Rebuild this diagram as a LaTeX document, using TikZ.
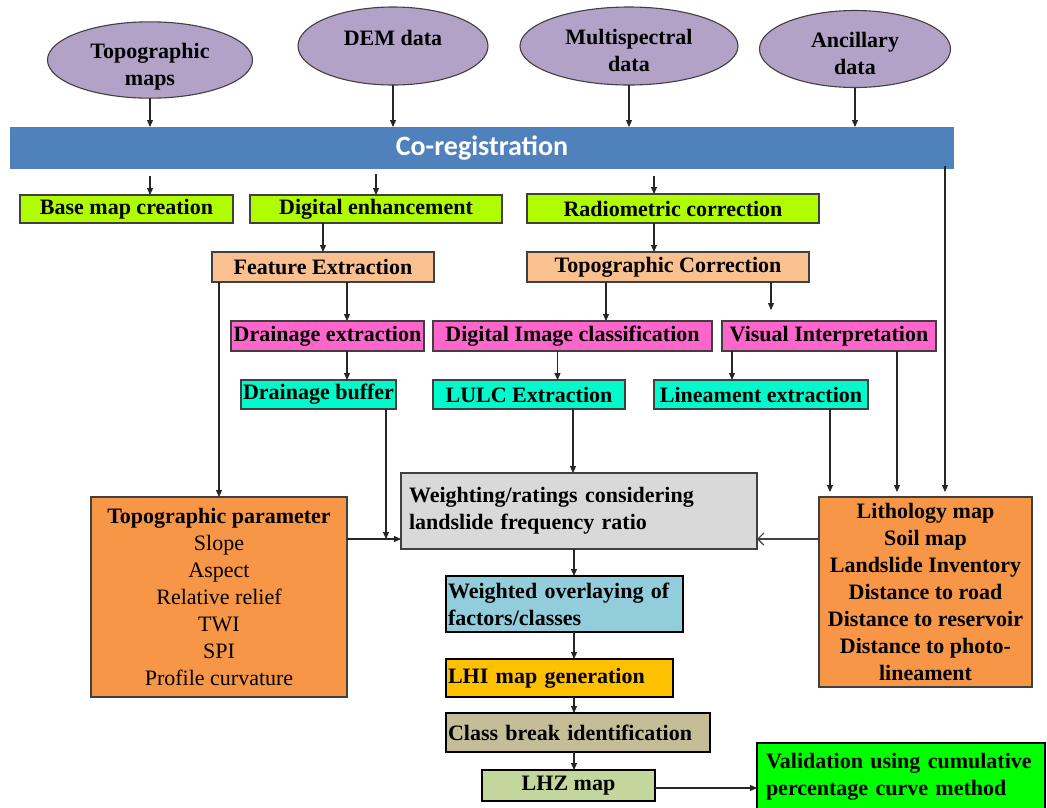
\documentclass[tikz,border=0pt]{standalone}
\usepackage{fontspec}
\setmainfont{Liberation Serif}
\newfontfamily\calib{Carlito}
\usetikzlibrary{arrows.meta,shapes.geometric}
\definecolor{ellfill}{HTML}{B2A2C7}
\definecolor{coregc}{HTML}{4F81BD}
\definecolor{greenc}{HTML}{B0FC00}
\definecolor{peach}{HTML}{FAC090}
\definecolor{pinkc}{HTML}{FF66CC}
\definecolor{cyanc}{HTML}{00FACC}
\definecolor{grayc}{HTML}{D9D9D9}
\definecolor{orangec}{HTML}{F79646}
\definecolor{lblue}{HTML}{92CDDC}
\definecolor{amber}{HTML}{FFC000}
\definecolor{tan}{HTML}{C4BD97}
\definecolor{lhzc}{HTML}{C3D69B}
\definecolor{valc}{HTML}{00FF00}
\definecolor{edge}{HTML}{404040}
\newcommand{\elltext}[2]{\raisebox{#1}[\height][\depth]{\begin{tabular}{@{}c@{}}#2\end{tabular}}}
\begin{document}
\begin{tikzpicture}[x=1pt,y=-1pt,
  every node/.style={font=\bfseries\fontsize{22}{27}\selectfont, inner sep=0pt, outer sep=0pt},
  ell/.style={ellipse, draw=edge, line width=1.1pt, fill=ellfill, align=center},
  box/.style={rectangle, draw=edge, line width=1.1pt, align=center},
  tbox/.style={rectangle, draw=black, line width=2pt, align=left},
  arr/.style={draw=black!85, line width=1.1pt, -{Triangle[length=7pt,width=6pt]}},
  openarr/.style={draw=black!75, line width=1.1pt, -{Straight Barb[length=6pt,width=12pt]}}]
\useasboundingbox (0,0) rectangle (1047,807);

% source ellipses
\node[ell, minimum width=205, minimum height=76] (tm) at (150,60) {\elltext{-7pt}{Topographic\\maps}};
\node[ell, minimum width=190, minimum height=78] (dem) at (393,46) {\elltext{6pt}{DEM data}};
\node[ell, minimum width=218, minimum height=78] (ms) at (629,46) {\elltext{-7pt}{Multispectral\\data}};
\node[ell, minimum width=191, minimum height=77] (anc) at (855,49) {\elltext{-7pt}{Ancillary\\data}};

% co-registration bar
\node[rectangle, fill=coregc, minimum width=944, minimum height=42, text=white,
      font=\calib\bfseries\fontsize{28}{32}\selectfont] (coreg) at (482,148) {Co-registration};

% first row
\node[box, fill=greenc, minimum width=213, minimum height=28] (base) at (126.5,209) {Base map creation};
\node[box, fill=greenc, minimum width=252, minimum height=28] (dig) at (376,209) {Digital enhancement};
\node[box, fill=greenc, minimum width=292, minimum height=29] (rad) at (673,208.5) {Radiometric correction};

% second row
\node[box, fill=peach, minimum width=222, minimum height=30] (feat) at (323,267) {Feature Extraction};
\node[box, fill=peach, minimum width=282, minimum height=30] (topcor) at (668,267) {Topographic Correction};

% third row
\node[box, fill=pinkc, minimum width=193, minimum height=30] (drex) at (327.5,336) {Drainage extraction};
\node[box, fill=pinkc, minimum width=279, minimum height=30] (dic) at (572.5,336) {Digital Image classification};
\node[box, fill=pinkc, minimum width=214, minimum height=30] (vi) at (829,336) {Visual Interpretation};

% fourth row
\node[box, fill=cyanc, minimum width=155, minimum height=29] (drbuf) at (318.5,394.5) {Drainage buffer};
\node[box, fill=cyanc, minimum width=192, minimum height=29] (lulc) at (529,394.5) {LULC Extraction};
\node[box, fill=cyanc, minimum width=214, minimum height=29] (lin) at (761,394.5) {Lineament extraction};

% weighting
\node[box, fill=grayc, minimum width=356, minimum height=76, text width=340, align=left, inner xsep=8pt] (weight) at (579,511)
  {Weighting/ratings considering\\landslide frequency ratio};

% factor boxes
\node[box, fill=orangec, minimum width=256, minimum height=200] (topo) at (219,597)
  {Topographic parameter\\\mdseries Slope\\\mdseries Aspect\\\mdseries Relative relief\\\mdseries TWI\\\mdseries SPI\\\mdseries Profile curvature};
\node[box, fill=orangec, minimum width=213, minimum height=190] (lith) at (925.5,592)
  {Lithology map\\Soil map\\Landslide Inventory\\Distance to road\\Distance to reservoir\\Distance to photo-\\lineament};

% output chain
\node[tbox, fill=lblue, minimum width=237, minimum height=56, text width=233, inner xsep=2pt] (wov) at (564.5,604)
  {Weighted overlaying of\\factors/classes};
\node[tbox, fill=amber, minimum width=227, minimum height=38, text width=223, inner xsep=2pt] (lhi) at (559.5,678) {LHI map generation};
\node[tbox, fill=tan, minimum width=264, minimum height=39, text width=260, inner xsep=2pt] (cb) at (578,732.5) {Class break identification};
\node[tbox, fill=lhzc, minimum width=173, minimum height=31, align=center] (lhz) at (568.5,785.5) {LHZ map};
\node[tbox, fill=valc, minimum width=288, minimum height=67, text width=270, inner xsep=9pt] (val) at (901,776.5)
  {Validation using cumulative\\percentage curve method};

% connectors: sources to co-registration
\draw[arr] (tm.south) -- (tm.south |- coreg.north);
\draw[arr] (dem.south) -- (dem.south |- coreg.north);
\draw[arr] (ms.south) -- (ms.south |- coreg.north);
\draw[arr] (anc.south) -- (anc.south |- coreg.north);

% co-registration to first row
\coordinate (r1) at ([xshift=-19pt]rad.north);
\draw[arr] ([yshift=-7pt]coreg.south -| tm.south) -- (tm.south |- base.north);
\draw[arr] ([yshift=-5pt]coreg.south -| dig.north) -- (dig.north);
\draw[arr] ([yshift=-7pt]coreg.south -| r1) -- (r1);

% to second row
\draw[arr] (feat.north |- dig.south) -- (feat.north);
\coordinate (r2) at ([xshift=-19pt]rad.south);
\draw[arr] (r2) -- (r2 |- topcor.north);

% feature extraction branches
\draw[arr] (topo.north |- feat.south) -- (topo.north);
\coordinate (f1) at ([xshift=24pt]feat.south);
\draw[arr] (f1) -- (f1 |- drex.north);
\draw[arr] (f1 |- drex.south) -- (f1 |- drbuf.north);

% topographic correction branches
\coordinate (t1) at ([xshift=-62pt]topcor.south);
\draw[arr] (t1) -- (t1 |- dic.north);
\coordinate (t2) at ([xshift=103pt]topcor.south);
\coordinate (vfree) at ([xshift=103pt,yshift=-28pt]topcor.south);
\draw[arr] (t2) -- (vfree);
\coordinate (d1) at ([xshift=-15pt]dic.south);
\draw[arr] (d1) -- (d1 |- lulc.north);
\coordinate (v1) at ([xshift=-97pt]vi.south);
\draw[arr] (v1) -- (v1 |- lin.north);

% into weighting
\coordinate (inW) at ([yshift=10pt]weight.south west);
\coordinate (inE) at ([yshift=10pt]weight.south east);
\coordinate (b1) at ([xshift=-10pt]drbuf.south east);
\draw[arr] (b1) -- (b1 |- inW);
\draw[arr] (topo.east |- inW) -- (inW);
\coordinate (l1) at ([xshift=44pt]lulc.south);
\draw[arr] (l1) -- (l1 |- weight.north);
\draw[openarr] (lith.west |- inE) -- (inE);

% into lithology box
\coordinate (n1) at ([xshift=69pt]lin.south);
\draw[arr, shorten >=5pt] (n1) -- (n1 |- lith.north);
\coordinate (v2) at ([xshift=68pt]vi.south);
\draw[arr, shorten >=5pt] (v2) -- (v2 |- lith.north);
\coordinate (c0) at ([xshift=-9pt,yshift=3pt]coreg.south east);
\draw[arr, shorten >=5pt] (c0) -- (c0 |- lith.north);

% output chain
\coordinate (c1) at ([xshift=-5pt]weight.south);
\draw[arr] (c1) -- (c1 |- wov.north);
\draw[arr] (c1 |- wov.south) -- (c1 |- lhi.north);
\draw[arr] (c1 |- lhi.south) -- (c1 |- cb.north);
\draw[arr] (c1 |- cb.south) -- (c1 |- lhz.north);
\draw[arr] ([yshift=-2.5pt]lhz.east) -- ([yshift=-2.5pt]lhz.east -| val.west);
\end{tikzpicture}
\end{document}
